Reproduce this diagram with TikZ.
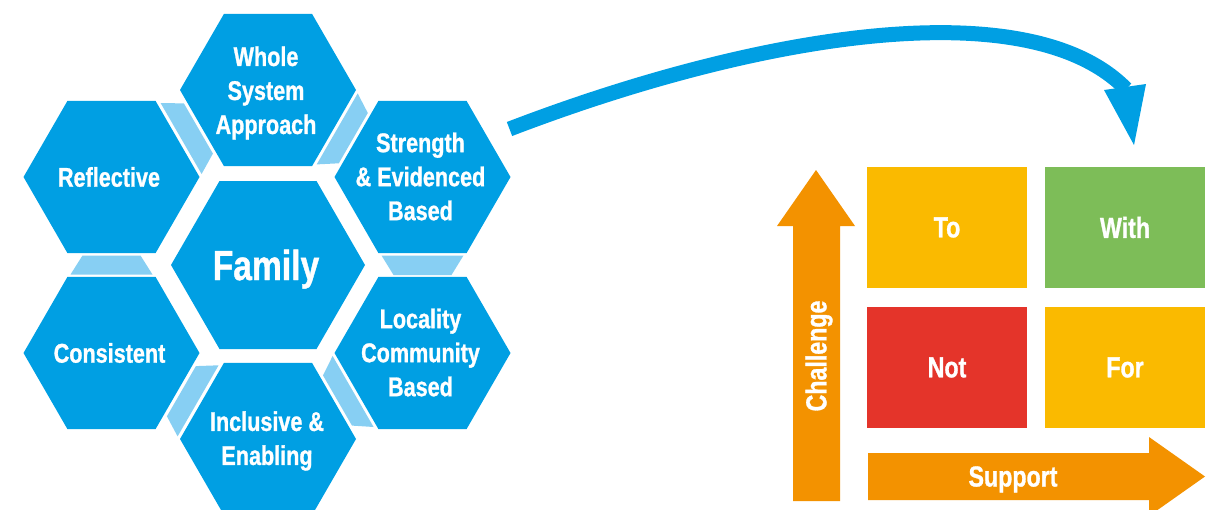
\documentclass[tikz,border=0pt]{standalone}
\usepackage{fontspec}
\setmainfont{Liberation Sans}[FakeStretch=0.8, BoldFeatures={FakeBold=1}]
\usetikzlibrary{shapes.geometric}
\definecolor{hexblue}{RGB}{0,159,227}
\definecolor{linkblue}{RGB}{135,207,243}
\definecolor{quadyellow}{RGB}{250,186,0}
\definecolor{quadgreen}{RGB}{125,189,88}
\definecolor{quadred}{RGB}{228,52,42}
\definecolor{axisorange}{RGB}{243,146,0}
\begin{document}
\begin{tikzpicture}[x=1pt,y=-1pt,
  hexbox/.style={regular polygon, regular polygon sides=6, fill=hexblue, minimum size=176pt, inner sep=0pt, outer sep=0pt},
  hextext/.style={text=white, font=\bfseries\fontsize{27}{34}\selectfont, align=center, inner sep=0pt},
  link/.style={fill=linkblue},
  quad/.style={minimum width=160pt, minimum height=121pt, inner sep=0pt, outer sep=0pt, text=white, font=\bfseries\fontsize{29}{34}\selectfont},
  axis/.style={fill=axisorange},
  axistext/.style={text=white, font=\bfseries\fontsize{29}{34}\selectfont, inner sep=0pt}]
\useasboundingbox (0,0) rectangle (1217,509);

% hexagons
\node[hexbox] (whole) at (268,90) {};
\node[hexbox] (refl) at (111.5,177) {};
\node[hexbox] (str) at (422.5,177) {};
\node[hexbox] (cons) at (111.5,353) {};
\node[hexbox] (loc) at (422.5,353) {};
\node[hexbox] (incl) at (268,439) {};
\node[hexbox, minimum size=194pt] (fam) at (268,265) {};

% light links between outer hexagons
\fill[link] (160.6,103.0) -- (183.9,103.4) -- (212.9,153.6) -- (201.6,174.0) -- cycle;
\fill[link] (357.7,93.4) -- (367.8,113.0) -- (338.8,163.3) -- (316.7,164.4) -- cycle;
\fill[link] (381.5,255.5) -- (463.5,255.5) -- (451.5,275) -- (393.5,275) -- cycle;
\fill[link] (332.6,356.0) -- (373.6,427.0) -- (352.0,425.6) -- (323.0,375.4) -- cycle;
\fill[link] (218.6,365.3) -- (177.6,436.4) -- (166.9,416.3) -- (195.9,366.1) -- cycle;
\fill[link] (70.5,274.5) -- (152.5,274.5) -- (140.5,255.5) -- (82.5,255.5) -- cycle;

% hexagon texts
\node[hextext] (wholeT) at (266,93) {Whole\\System\\Approach};
\node[hextext] (reflT) at (109,177) {Reflective};
\node[hextext] (strT) at (420.5,176.5) {Strength\\\& Evidenced\\Based};
\node[hextext] (consT) at (109.5,353) {Consistent};
\node[hextext] (locT) at (420.5,352.5) {Locality\\Community\\Based};
\node[hextext] (inclT) at (267,441) {Inclusive \&\\Enabling};
\node[hextext, font=\bfseries\fontsize{42}{48}\selectfont, anchor=base] (famT) at (266,280) {Family};

% curved arrow
\coordinate (arcStart) at (509.5,129);
\coordinate (arcBase) at (1126,89);
\coordinate (arcTip) at (1134,145);
\draw[hexblue, line width=15pt] (arcStart) .. controls (752,36) and (1027,-12) .. (arcBase);
\fill[hexblue] (1104,90) -- (1146,84) -- (arcTip) -- cycle;

% quadrants
\node[quad, fill=quadyellow] (to) at (947,227.5) {To};
\node[quad, fill=quadgreen] (with) at (1125,227.5) {With};
\node[quad, fill=quadred] (not) at (947,367.5) {Not};
\node[quad, fill=quadyellow] (for) at (1125,367.5) {For};

% axes
\fill[axis] (793,501) -- (793,226) -- (777,226) -- (816,170) -- (855,226) -- (840,226) -- (840,501) -- cycle;
\fill[axis] (868,453) -- (1149,453) -- (1149,437) -- (1205,476.5) -- (1149,516) -- (1149,500) -- (868,500) -- cycle;
\node[axistext, rotate=90] (challenge) at (819,356) {Challenge};
\node[axistext, anchor=base] (support) at (1013,486.5) {Support};
\end{tikzpicture}
\end{document}
